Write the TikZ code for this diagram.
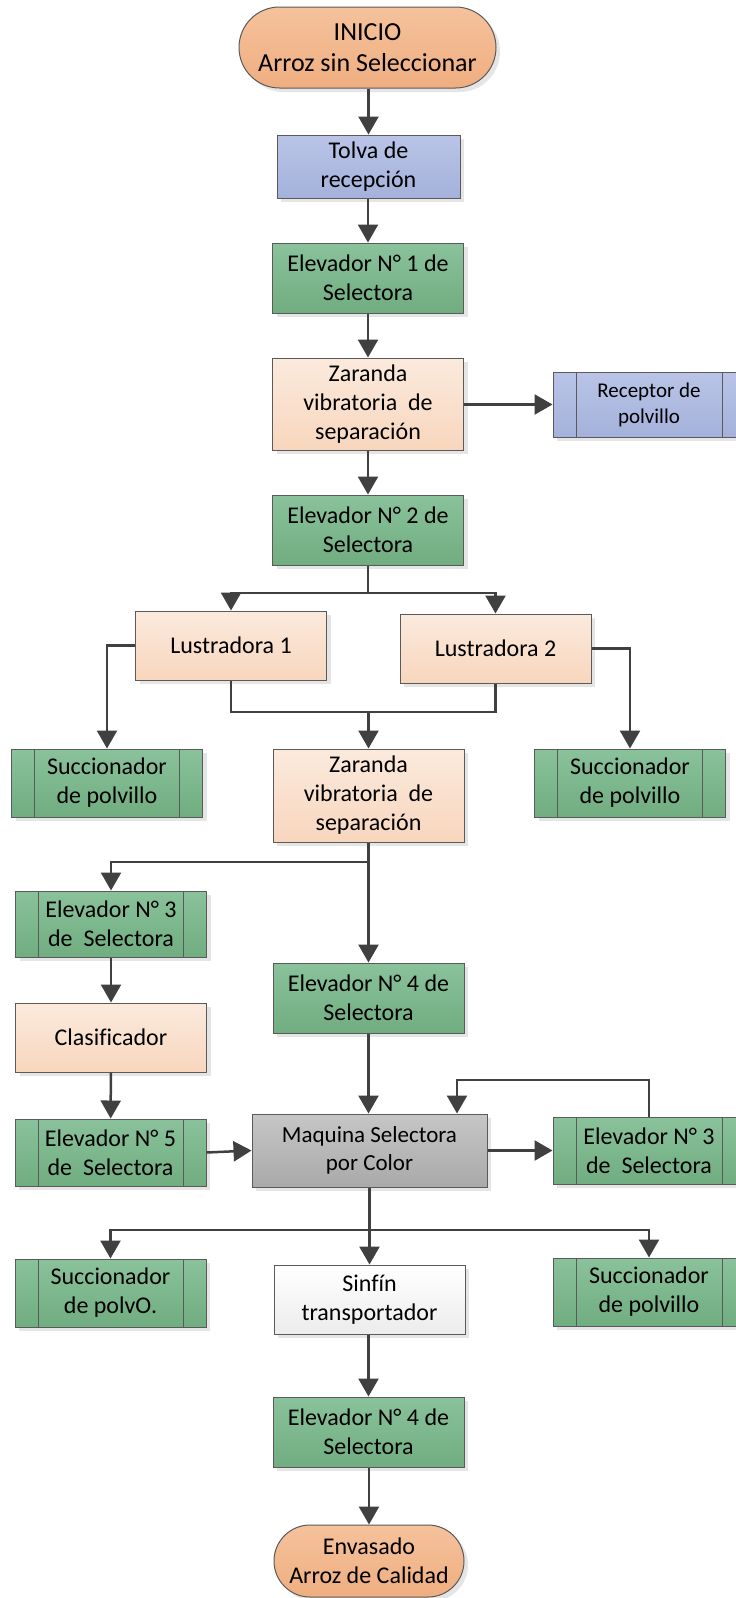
\documentclass[tikz,border=0pt]{standalone}
\usepackage{fontspec}
\setmainfont{Carlito}[Ligatures=NoCommon]
\usetikzlibrary{arrows.meta,shapes.misc,shadows}
\definecolor{edge}{HTML}{404040}
\definecolor{bord}{HTML}{5A5A5A}
\definecolor{orT}{HTML}{F5C29C}
\definecolor{orB}{HTML}{EFAE80}
\definecolor{blT}{HTML}{B9C4E7}
\definecolor{blB}{HTML}{A4B1DA}
\definecolor{grT}{HTML}{8AC29B}
\definecolor{grB}{HTML}{70AD80}
\definecolor{peT}{HTML}{FBEADD}
\definecolor{peB}{HTML}{F8D6BD}
\definecolor{gyT}{HTML}{C6C6C6}
\definecolor{gyB}{HTML}{A9A9A9}
\definecolor{whT}{HTML}{FFFFFF}
\definecolor{whB}{HTML}{ECECEC}
\tikzset{
  base/.style={draw=bord, line width=1pt, inner sep=0pt, align=center,
    font=\fontsize{24}{29}\selectfont, text=black, minimum width=191pt,
    drop shadow={shadow xshift=4pt, shadow yshift=-4pt, fill=black!20, opacity=0.5}},
  termbox/.style={base, rounded rectangle, top color=orT, bottom color=orB},
  bluebox/.style={base, rectangle, top color=blT, bottom color=blB},
  greenbox/.style={base, rectangle, top color=grT, bottom color=grB},
  peachbox/.style={base, rectangle, top color=peT, bottom color=peB},
  graybox/.style={base, rectangle, top color=gyT, bottom color=gyB},
  whitebox/.style={base, rectangle, top color=whT, bottom color=whB},
  procbox/.style={path picture={
    \draw[bord, line width=1pt]
      ([xshift=23pt]path picture bounding box.north west) -- ([xshift=23pt]path picture bounding box.south west)
      ([xshift=-23pt]path picture bounding box.north east) -- ([xshift=-23pt]path picture bounding box.south east);}},
  flow/.style={draw=edge, line width=2.5pt, -{Triangle[length=18pt,width=20pt]}},
  plainline/.style={draw=edge, line width=2.5pt}
}
\begin{document}
\begin{tikzpicture}[x=1pt,y=-1pt]
\useasboundingbox[fill=white] (0,0) rectangle (736,1598);

\node[termbox, minimum width=257pt, minimum height=81pt, font=\fontsize{26}{31}\selectfont] (start) at (367.5,47.5) {INICIO\\Arroz sin Seleccionar};
\node[bluebox, minimum width=183pt, minimum height=63pt] (tolva) at (368.5,166.5) {Tolva de\\recepción};
\node[greenbox, minimum height=70pt] (elev1) at (368,278) {Elevador N° 1 de\\Selectora};
\node[peachbox, minimum height=92pt] (zar1) at (368,404) {Zaranda\\vibratoria~ de\\separación};
\node[bluebox, procbox, minimum width=192pt, minimum height=65pt, font=\fontsize{21}{26}\selectfont] (recep) at (649,404.5) {Receptor de\\polvillo};
\node[greenbox, minimum height=70pt] (elev2) at (368,530) {Elevador N° 2 de\\Selectora};
\node[peachbox, minimum height=69pt] (lust1) at (231,645.5) {Lustradora 1};
\node[peachbox, minimum height=69pt] (lust2) at (495.5,648.5) {Lustradora 2};
\node[greenbox, procbox, minimum height=68pt] (succ1) at (107,783) {Succionador\\de polvillo};
\node[greenbox, procbox, minimum height=68pt] (succ2) at (630,783) {Succionador\\de polvillo};
\node[peachbox, minimum height=93pt] (zar2) at (368.5,795.5) {Zaranda\\vibratoria~ de\\separación};
\node[greenbox, procbox, minimum height=66pt] (elev3L) at (111,924) {Elevador N° 3\\de~ Selectora};
\node[peachbox, minimum height=69pt] (clas) at (111,1037.5) {Clasificador};
\node[greenbox, minimum height=70pt] (elev4) at (368.5,998) {Elevador N° 4 de\\Selectora};
\node[greenbox, procbox, minimum height=67pt] (elev5) at (110.5,1152.5) {Elevador N° 5\\de~ Selectora};
\node[graybox, minimum width=235pt, minimum height=73pt, font=\fontsize{23}{28}\selectfont] (maq) at (369.5,1150.5) {Maquina Selectora\\por Color};
\node[greenbox, procbox, minimum width=192pt, minimum height=67pt] (elev3R) at (649,1150.5) {Elevador N° 3\\de~ Selectora};
\node[greenbox, procbox, minimum height=68pt] (succ3) at (110.5,1293) {Succionador\\de polvO.};
\node[whitebox, minimum height=69pt] (sinfin) at (369.5,1299.5) {Sinfín\\transportador};
\node[greenbox, procbox, minimum width=192pt, minimum height=68pt] (succ4) at (649,1292) {Succionador\\de polvillo};
\node[greenbox, minimum height=70pt] (elev4b) at (368.5,1432) {Elevador N° 4 de\\Selectora};
\node[termbox, minimum width=190pt, minimum height=72pt] (env) at (369,1561) {Envasado\\Arroz de Calidad};

% connectors
\draw[flow] (start.south -| tolva.north) -- (tolva.north);
\draw[flow] (tolva.south -| elev1.north) -- (elev1.north);
\draw[flow] (elev1) -- (zar1);
\draw[flow] (zar1.east |- recep.west) -- (recep.west);
\draw[flow] (zar1) -- (elev2);

\coordinate (s1) at (368,593);
\draw[plainline] (elev2.south) -- (s1);
\draw[flow] (s1) -| (lust1.north);
\draw[flow] (s1) -| (lust2.north);
\draw[flow] (lust1.west) -| (succ1.north);
\draw[flow] (lust2.east) -| (succ2.north);

\coordinate (m1) at (368.5,712);
\draw[plainline] (lust1.south) |- (m1) -| (lust2.south);
\draw[flow] (m1) -- (zar2.north);

\coordinate (s2) at (368.5,862);
\draw[flow] (zar2.south) -- (elev4.north);
\draw[flow] (s2) -| (elev3L.north);
\draw[flow] (elev3L) -- (clas);
\draw[flow] (clas) -- (elev5);

\draw[flow] (elev4.south) -- (elev4.south |- maq.north);
\draw[flow] (elev5.east) -- (maq.west);
\draw[flow] (maq.east) -- (elev3R.west);
\coordinate (lp) at (457,1080);
\draw[flow] (elev3R.north) |- (lp) -- (lp |- maq.north);

\coordinate (s3) at (369.5,1230);
\draw[flow] (maq.south) -- (sinfin.north);
\draw[flow] (s3) -| (succ3.north);
\draw[flow] (s3) -| (succ4.north);
\draw[flow] (sinfin.south -| elev4b.north) -- (elev4b.north);
\draw[flow] (elev4b.south -| env.north) -- (env.north);
\end{tikzpicture}
\end{document}
